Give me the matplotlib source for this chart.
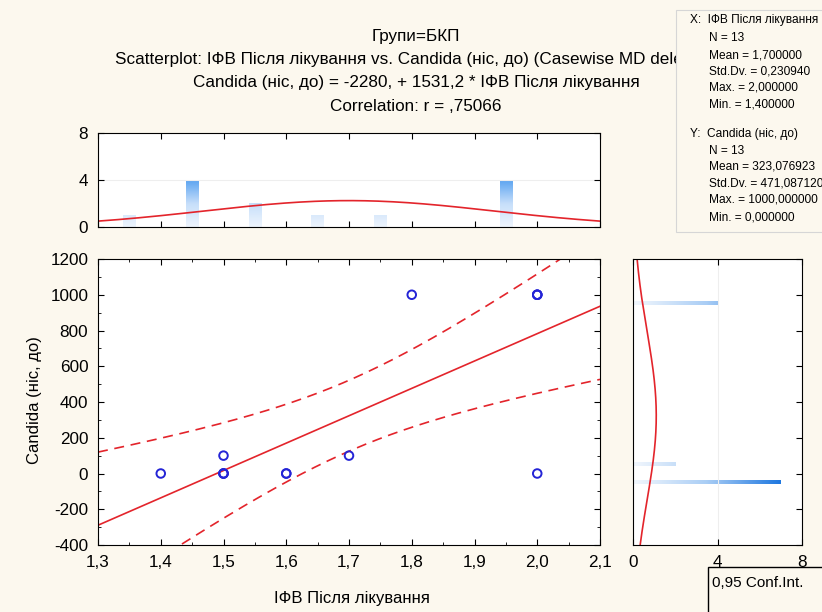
import numpy as np
import matplotlib.pyplot as plt
from matplotlib.colors import LinearSegmentedColormap
from matplotlib.patches import Rectangle
from matplotlib.ticker import MultipleLocator, FuncFormatter

plt.rcParams['font.family'] = ['Liberation Sans', 'DejaVu Sans']
plt.rcParams['axes.unicode_minus'] = False

# дані: ІФВ після лікування та Candida (ніс, до), 13 спостережень
x_ifv = [1.4, 1.5, 1.5, 1.5, 1.5, 1.6, 1.6, 1.7, 1.8, 2.0, 2.0, 2.0, 2.0]
y_candida = [0, 0, 0, 0, 100, 0, 0, 100, 1000, 1000, 1000, 1000, 0]

# гістограми на полях
x_hist_centers = [1.35, 1.45, 1.55, 1.65, 1.75, 1.95]
x_hist_counts = [1, 4, 2, 1, 1, 4]
y_hist_centers = [-50, 50, 950]
y_hist_counts = [7, 2, 4]

x_ticks = [1.3, 1.4, 1.5, 1.6, 1.7, 1.8, 1.9, 2.0, 2.1]
y_ticks = [-400, -200, 0, 200, 400, 600, 800, 1000, 1200]

stats_lines = [
    ("X:  ІФВ Після лікування", False),
    ("N = 13", True),
    ("Mean = 1,700000", True),
    ("Std.Dv. = 0,230940", True),
    ("Max. = 2,000000", True),
    ("Min. = 1,400000", True),
    ("Y:  Candida (ніс, до)", False),
    ("N = 13", True),
    ("Mean = 323,076923", True),
    ("Std.Dv. = 471,087120", True),
    ("Max. = 1000,000000", True),
    ("Min. = 0,000000", True),
]

W, H = 822, 612
BG = '#fcf8ee'
RED = '#e3242b'
BLUE = '#2424d6'

fig = plt.figure(figsize=(W / 100, H / 100), dpi=100)
fig.patch.set_facecolor(BG)


def fx(px):
    return px / W


def fy(py):
    return 1 - py / H


def comma(v, pos):
    s = ('%.1f' % v) if abs(v) < 10 else ('%d' % v)
    return s.replace('.', ',')


ax = fig.add_axes([fx(98), fy(545), fx(600) - fx(98), fy(259) - fy(545)])
axt = fig.add_axes([fx(98), fy(227), fx(600) - fx(98), fy(133) - fy(227)])
axr = fig.add_axes([fx(633), fy(545), fx(802) - fx(633), fy(259) - fy(545)])

x = np.array(x_ifv)
y = np.array(y_candida)
n = len(x)

# лінія регресії та 95% довірчі межі
b, a = np.polyfit(x, y, 1)
xs = np.linspace(1.3, 2.1, 200)
yhat = a + b * xs
resid = y - (a + b * x)
s = np.sqrt(np.sum(resid ** 2) / (n - 2))
sxx = np.sum((x - x.mean()) ** 2)
t = 2.200985
half = t * s * np.sqrt(1 / n + (xs - x.mean()) ** 2 / sxx)

ax.plot(xs, yhat, color=RED, lw=1.2)
ax.plot(xs, yhat + half, color=RED, lw=1.2, ls=(0, (6, 4)))
ax.plot(xs, yhat - half, color=RED, lw=1.2, ls=(0, (6, 4)))
ax.scatter(x, y, s=38, facecolors='none', edgecolors=BLUE, linewidths=1.4, zorder=3)

ax.set_xlim(1.3, 2.1)
ax.set_ylim(-400, 1200)
ax.set_xticks(x_ticks)
ax.set_yticks(y_ticks)
ax.xaxis.set_minor_locator(MultipleLocator(0.05))
ax.yaxis.set_minor_locator(MultipleLocator(100))
ax.xaxis.set_major_formatter(FuncFormatter(comma))
ax.tick_params(which='both', direction='in', top=True, right=True, labelsize=12.3, pad=7)
ax.tick_params(which='major', length=4)
ax.tick_params(which='minor', length=2)

# верхня гістограма (X)
cmap_v = LinearSegmentedColormap.from_list('v', ['#eef5fd', '#c6defa', '#5da5f1'])
w = 0.02
for c, k in zip(x_hist_centers, x_hist_counts):
    img = np.linspace(0, k, 64).reshape(-1, 1)
    axt.imshow(img, extent=[c - w / 2, c + w / 2, 0, k], origin='lower', aspect='auto',
               cmap=cmap_v, vmin=0, vmax=max(x_hist_counts), interpolation='bilinear')
pdf_x = n * 0.1 * np.exp(-0.5 * ((xs - x.mean()) / x.std(ddof=1)) ** 2) / (x.std(ddof=1) * np.sqrt(2 * np.pi))
axt.plot(xs, pdf_x, color=RED, lw=1.2)
axt.axhline(4, color='#eeeeee', lw=0.8, zorder=0)
axt.set_xlim(1.3, 2.1)
axt.set_ylim(0, 8)
axt.set_xticks(x_ticks)
axt.set_yticks([0, 4, 8])
axt.tick_params(direction='in', top=True, right=True, labelbottom=False, length=4, labelsize=12.3, pad=7)

# права гістограма (Y)
cmap_h = LinearSegmentedColormap.from_list('h', ['#f2f7fd', '#a9cdf5', '#1f78e0'])
hh = 20
for c, k in zip(y_hist_centers, y_hist_counts):
    img = np.linspace(0, k, 64).reshape(1, -1)
    axr.imshow(img, extent=[0, k, c - hh / 2, c + hh / 2], origin='lower', aspect='auto',
               cmap=cmap_h, vmin=0, vmax=max(y_hist_counts), interpolation='bilinear')
ys = np.linspace(-400, 1200, 300)
pdf_y = n * 100 * np.exp(-0.5 * ((ys - y.mean()) / y.std(ddof=1)) ** 2) / (y.std(ddof=1) * np.sqrt(2 * np.pi))
axr.plot(pdf_y, ys, color=RED, lw=1.2)
axr.axvline(4, color='#eeeeee', lw=0.8, zorder=0)
axr.set_xlim(0, 8)
axr.set_ylim(-400, 1200)
axr.set_xticks([0, 4, 8])
axr.set_yticks(y_ticks)
axr.tick_params(axis='y', direction='in', left=False, right=True, labelleft=False, length=4)
axr.tick_params(axis='x', direction='in', top=True, length=4, labelsize=12.3, pad=7)

# заголовки
title_lines = [
    "Групи=БКП",
    "Scatterplot: ІФВ Після лікування vs. Candida (ніс, до) (Casewise MD deletion)",
    "Candida (ніс, до) = -2280, + 1531,2 * ІФВ Після лікування",
    "Correlation: r = ,75066",
]
for i, line in enumerate(title_lines):
    fig.text(fx(416), fy(36 + 23.5 * i), line, ha='center', va='center', fontsize=12.3, zorder=1)

fig.text(fx(352), fy(598), "ІФВ Після лікування", ha='center', va='center', fontsize=12)
fig.text(fx(34), fy(400), "Candida (ніс, до)", ha='center', va='center', rotation=90, fontsize=12)

# блок статистики
fig.add_artist(Rectangle((fx(676), fy(232)), fx(160), fy(10) - fy(232), transform=fig.transFigure,
                         facecolor=BG, edgecolor='#d6d6d6', lw=0.8, zorder=2))
ypos = [20, 38, 55, 71, 88, 104, 134, 151, 167, 184, 200, 217]
for (txt, indent), yp in zip(stats_lines, ypos):
    fig.text(fx(709 if indent else 690), fy(yp), txt, ha='left', va='center', fontsize=8.6, zorder=3)

# легенда
fig.add_artist(Rectangle((fx(708), fy(640)), fx(140), fy(567) - fy(640), transform=fig.transFigure,
                         facecolor=BG, edgecolor='black', lw=1, zorder=4))
fig.text(fx(712), fy(583), "0,95 Conf.Int.", ha='left', va='center', fontsize=11, zorder=5)

fig.savefig('out.png', dpi=100, facecolor=fig.get_facecolor())
